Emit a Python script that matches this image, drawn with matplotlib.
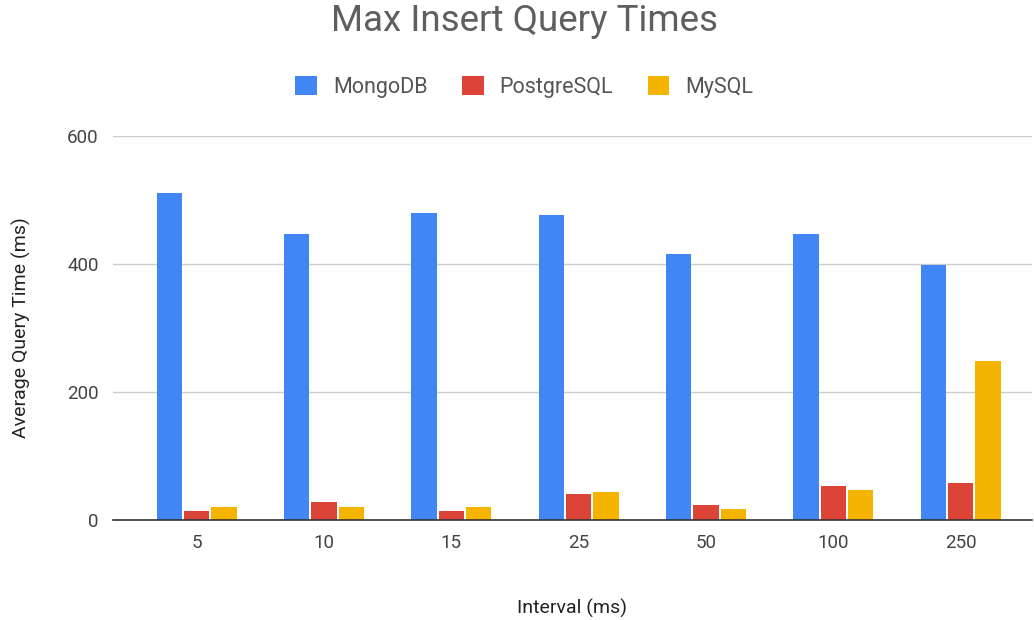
import numpy as np
import matplotlib.pyplot as plt

plt.rcParams['font.family'] = ['Roboto', 'DejaVu Sans']

intervals = ['5', '10', '15', '25', '50', '100', '250']
mongodb = [510, 447, 479, 476, 415, 447, 398]
postgres = [15, 29, 15, 41, 23, 53, 58]
mysql = [21, 21, 21, 44, 18, 47, 248]

series = ['MongoDB', 'PostgreSQL', 'MySQL']
colors = ['#4285F4', '#DB4437', '#F4B400']

fig = plt.figure(figsize=(10.34, 6.2), dpi=100)
ax = fig.add_axes([0.109, 0.161, 0.889, 0.62])

x = np.arange(len(intervals))
w = 0.2
step = 0.215
for i, (vals, name, c) in enumerate(zip([mongodb, postgres, mysql], series, colors)):
    ax.bar(x + (i - 1) * step, vals, width=w, color=c, label=name, zorder=3)

ax.set_xlim(-0.66, 6.56)
ax.set_ylim(0, 600)
ax.set_yticks([0, 200, 400, 600])
ax.set_xticks(x)
ax.set_xticklabels(intervals)
ax.grid(axis='y', color='#cccccc', linewidth=1, zorder=0)
for s in ['top', 'right', 'left']:
    ax.spines[s].set_visible(False)
ax.spines['bottom'].set_color('#333333')
ax.spines['bottom'].set_linewidth(1.2)
ax.spines['bottom'].set_zorder(4)
ax.tick_params(axis='both', length=0, labelsize=13.5, colors='#444444', pad=10)
ax.tick_params(axis='y', pad=10)

ax.set_xlabel('Interval (ms)', fontsize=14, color='#222222', labelpad=34)
ax.set_ylabel('Average Query Time (ms)', fontsize=14, color='#222222', labelpad=26)

fig.suptitle('Max Insert Query Times', x=0.507, y=0.995, fontsize=26.5, color='#5f5f5f')
fig.legend(loc='center', bbox_to_anchor=(0.507, 0.86), ncol=3, frameon=False,
           fontsize=15.5, handlelength=1.0, handleheight=1.0, columnspacing=1.6,
           handletextpad=0.75, labelcolor='#555555')

plt.savefig('out.png', dpi=100)
